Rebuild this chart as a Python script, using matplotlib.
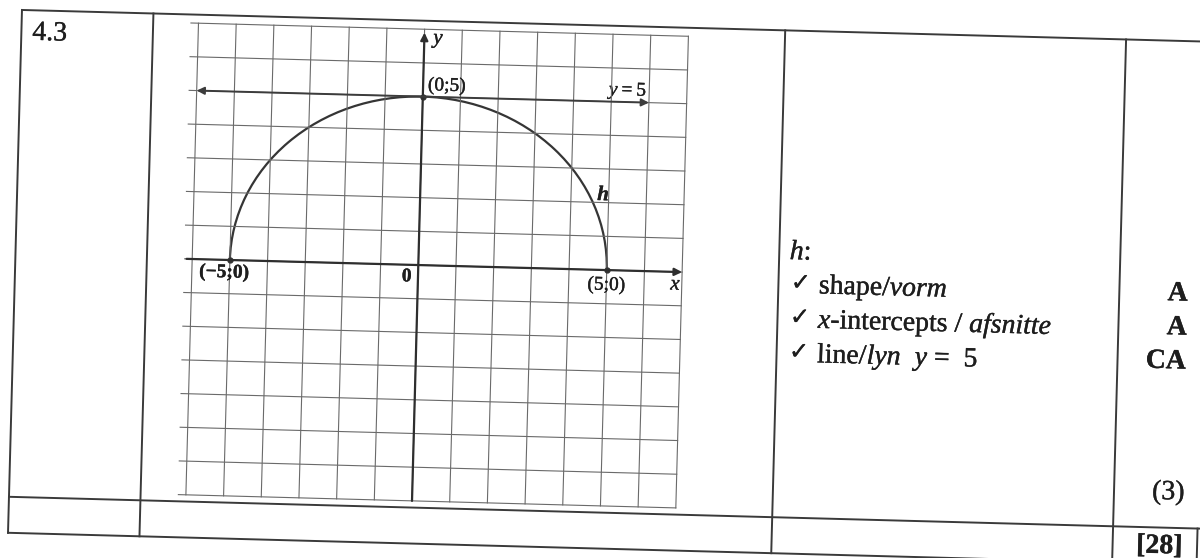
import matplotlib
matplotlib.use("Agg")
import matplotlib.pyplot as plt
import matplotlib.patheffects as pe
from matplotlib.transforms import Affine2D
from matplotlib.patches import Arc
from matplotlib.text import Text

# ---------------- data ----------------
x_grid = list(range(-6, 8))          # vertical grid lines (x = -6 .. 7)
y_grid = list(range(-7, 8))          # horizontal grid lines (y = -7 .. 7)
radius = 5                           # h: semicircle of radius 5
point_x = [-5, 0, 5]
point_y = [0, 5, 0]
point_labels = ["(\u22125;0)", "(0;5)", "(5;0)"]
asymptote_y = 5
question = "4.3"
marks = ["A", "A", "CA"]
subtotal = "(3)"
total = "[28]"

# ---------------- layout ----------------
W, H = 1200, 558
ANG = 1.53                     # scan tilt (clockwise)
SERIF = ["Liberation Serif", "DejaVu Serif"]
INK = "#1e1e1e"
LINE = "#3a3a3a"
THICK = [pe.withStroke(linewidth=0.25, foreground=INK)]

fig = plt.figure(figsize=(W / 100, H / 100), dpi=100)
fig.patch.set_facecolor("white")
rot = Affine2D().rotate_deg_around(W / 2, H / 2, -ANG)

page = fig.add_axes([0, 0, 1, 1])
page.set_xlim(0, W)
page.set_ylim(H, 0)
page.axis("off")
page.set_autoscale_on(False)
PT = page.transData + rot

# graph axes (unrotated pixel box)
g_left, g_right, g_top, g_bot = 191.8, 681.9, 34.0, 505.8
gx = fig.add_axes([g_left / W, (H - g_bot) / H, (g_right - g_left) / W, (g_bot - g_top) / H])
gx.set_xlim(x_grid[0], x_grid[-1])
gx.set_ylim(y_grid[0], y_grid[-1])
gx.axis("off")
gx.set_autoscale_on(False)
GT = gx.transData + rot

renderer = fig.canvas.get_renderer()


def text_w(s, **kw):
    t1 = Text(0, 0, s + "|", **kw)
    t1.set_figure(fig)
    t2 = Text(0, 0, "|", **kw)
    t2.set_figure(fig)
    return t1.get_window_extent(renderer).width - t2.get_window_extent(renderer).width


def rich(x, y, pieces, size, ha="left", color=INK):
    kws = [dict(fontsize=size, family=fam, style=st, weight=wt) for (_, st, wt, fam) in pieces]
    widths = [text_w(p[0], **k) for p, k in zip(pieces, kws)]
    cx = x - (sum(widths) / 2 if ha == "center" else 0) - (sum(widths) if ha == "right" else 0)
    for (s, _, _, _), k, w in zip(pieces, kws, widths):
        page.text(cx, y, s, transform=PT, rotation=-ANG, rotation_mode="anchor",
                  ha="left", va="baseline", color=color, clip_on=False, path_effects=THICK, **k)
        cx += w


def d2p(x, y):
    return page.transData.inverted().transform(gx.transData.transform((x, y)))


def glabel(x, y, s, size, **kw):
    gx.text(x, y, s, transform=GT, rotation=-ANG, rotation_mode="anchor", ha="center", va="center",
            fontsize=size, family=SERIF, color=INK, clip_on=False, path_effects=THICK, **kw)


# ---------------- table ----------------
tbl_x = [15, 146.5, 778.5, 1119.5]
tbl_y = [25.5, 512.5, 548.5]
right_x = 1214
for yv in tbl_y:
    page.plot([tbl_x[0], right_x], [yv, yv], color=LINE, lw=1.4, transform=PT, clip_on=False)
for xv in tbl_x[:-1]:
    page.plot([xv, xv], [tbl_y[0], tbl_y[-1]], color=LINE, lw=1.4, transform=PT, clip_on=False)
# last column and the box of the total mark run past the lower edge
page.plot([tbl_x[-1], tbl_x[-1]], [tbl_y[0], tbl_y[-1] + 30], color=LINE, lw=1.4, transform=PT, clip_on=False)
page.plot([1204, 1204], [tbl_y[1], tbl_y[-1] + 30], color=LINE, lw=1.4, transform=PT, clip_on=False)

# ---------------- graph ----------------
for xv in x_grid:
    gx.plot([xv, xv], [y_grid[0], y_grid[-1]], color="#6a6a6a", lw=0.8, transform=GT, clip_on=False)
for yv in y_grid:
    gx.plot([x_grid[0] - 0.2, x_grid[-1]], [yv, yv], color="#6a6a6a", lw=0.8, transform=GT, clip_on=False)

arrow_kw = dict(color="#2e2e2e", lw=1.6, shrinkA=0, shrinkB=0, mutation_scale=11)
gx.annotate("", xy=(x_grid[-1], 0), xytext=(x_grid[0] - 0.15, 0), xycoords=GT, textcoords=GT,
            arrowprops=dict(arrowstyle="-|>", **arrow_kw), annotation_clip=False)
gx.annotate("", xy=(0, y_grid[-1] - 0.1), xytext=(0, y_grid[0]), xycoords=GT, textcoords=GT,
            arrowprops=dict(arrowstyle="-|>", **arrow_kw), annotation_clip=False)
gx.annotate("", xy=(x_grid[-1] - 1, asymptote_y), xytext=(x_grid[0], asymptote_y), xycoords=GT,
            textcoords=GT, arrowprops=dict(arrowstyle="<|-|>", **dict(arrow_kw, color="#3c3c3c", lw=1.4)),
            annotation_clip=False)

arc = Arc((0, 0), 2 * radius, 2 * radius, theta1=0, theta2=180, transform=GT,
          color="#353535", lw=1.6, clip_on=False)
gx.add_patch(arc)
gx.plot(point_x, point_y, "o", ms=3.5, color="#333333", transform=GT, clip_on=False)

# graph labels
lab_pos = [(-5.14, -0.38), (0.63, 5.33), (5.0, -0.45)]
lab_wt = ["bold", "normal", "normal"]
for (lx, ly), s, wt in zip(lab_pos, point_labels, lab_wt):
    glabel(lx, ly, s, 14, weight=wt)
glabel(-0.3, -0.36, "0", 14, weight="bold")
glabel(6.82, -0.39, "x", 15, style="italic")
glabel(0.36, 6.72, "y", 15, style="italic")
glabel(4.85, 2.22, "h", 15, style="italic", weight="bold")
px, py = d2p(5.42, 5.35)
rich(px, py + 5, [("y", "italic", "normal", SERIF), ("\u2009=\u20095", "normal", "normal", SERIF)], 14,
     ha="center")

# ---------------- text columns ----------------
TS = 20
rich(26, 55, [(question, "normal", "normal", SERIF)], TS)

rich(789, 254, [("h", "italic", "normal", SERIF), (":", "normal", "normal", SERIF)], TS)
line_base = [287.5, 322, 356.5]
criteria = [
    [("shape/", "normal", "normal", SERIF), ("vorm", "italic", "normal", SERIF)],
    [("x", "italic", "normal", SERIF), ("-intercepts / ", "normal", "normal", SERIF),
     ("afsnitte", "italic", "normal", SERIF)],
    [("line/", "normal", "normal", SERIF), ("lyn", "italic", "normal", SERIF), ("  ", "normal", "normal", SERIF),
     ("y", "italic", "normal", SERIF), (" =  5", "normal", "normal", SERIF)],
]
for yb, pieces in zip(line_base, criteria):
    rich(791, yb - 3, [("\u2713", "normal", "bold", ["DejaVu Sans"])], 17)
    rich(819, yb, pieces, TS)

mark_base = [285, 319, 353]
for yb, m in zip(mark_base, marks):
    rich(1188, yb, [(m, "normal", "bold", SERIF)], TS, ha="right")

rich(1190, 484, [(subtotal, "normal", "normal", SERIF)], TS, ha="right")
rich(1189, 538, [(total, "normal", "bold", SERIF)], TS, ha="right")

fig.savefig("out.png", dpi=100, facecolor="white")
